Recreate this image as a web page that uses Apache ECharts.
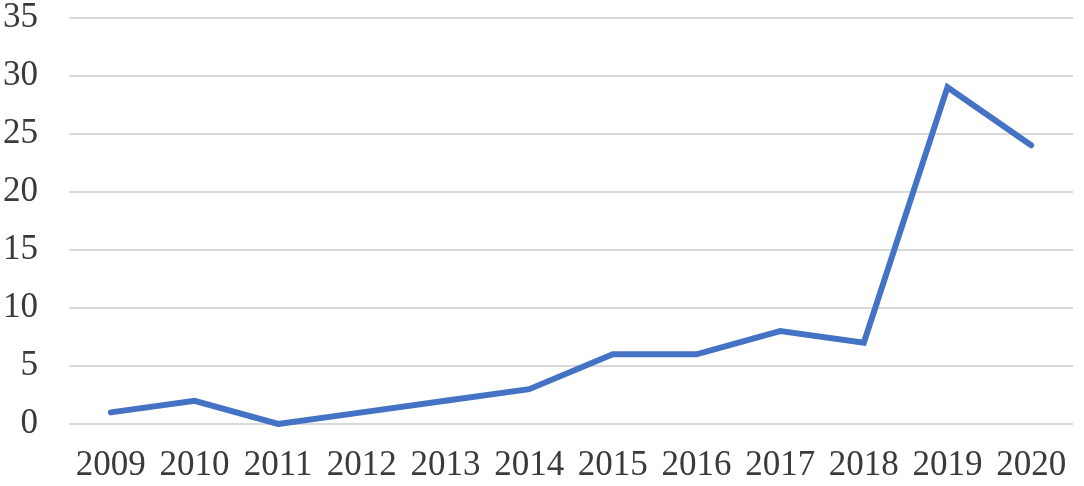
<!DOCTYPE html>
<html>
<head>
<meta charset="utf-8">
<script src="https://cdn.jsdelivr.net/npm/echarts@6/dist/echarts.min.js"></script>
<style>
html,body{margin:0;padding:0;background:#fff;}
#chart{width:1084px;height:486px;}
</style>
</head>
<body>
<div id="chart"></div>
<script>
const years = ['2009','2010','2011','2012','2013','2014','2015','2016','2017','2018','2019','2020'];
const values = [1, 2, 0, 1, 2, 3, 6, 6, 8, 7, 29, 24];

const chart = echarts.init(document.getElementById('chart'), null, {renderer: 'canvas'});
const font = 'Liberation Serif, Times New Roman, serif';
chart.setOption({
  animation: false,
  backgroundColor: '#ffffff',
  grid: {left: 69, right: 11, top: 17, bottom: 62, containLabel: false},
  xAxis: {
    type: 'category',
    data: years,
    boundaryGap: true,
    axisLine: {show: false},
    axisTick: {show: false},
    axisLabel: {interval: 0, hideOverlap: false, fontFamily: font, fontSize: 35, color: '#3a3a3a', margin: 24}
  },
  yAxis: {
    type: 'value',
    min: 0, max: 35, interval: 5,
    axisLine: {show: false},
    axisTick: {show: false},
    splitLine: {lineStyle: {color: '#d9d9d9', width: 2}},
    axisLabel: {fontFamily: font, fontSize: 35, color: '#3a3a3a', margin: 31}
  },
  series: [{
    type: 'line',
    data: values,
    showSymbol: false,
    symbol: 'none',
    lineStyle: {color: '#4472C4', width: 6, cap: 'round', join: 'miter'},
    itemStyle: {color: '#4472C4'}
  }]
});
</script>
</body>
</html>
